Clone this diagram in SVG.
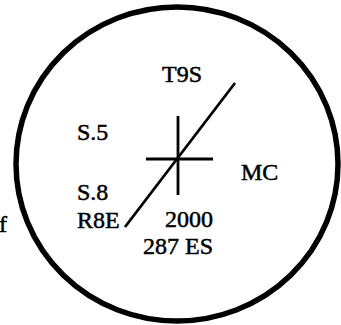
<svg xmlns="http://www.w3.org/2000/svg" width="341" height="325" viewBox="0 0 341 325">
<style>
text{font-family:"Liberation Serif","Times New Roman",serif;font-size:24px;fill:#000;stroke:#000;stroke-width:0.5}
.ln{stroke:#000;stroke-width:2.8;fill:none;stroke-linecap:butt}
</style>
<rect width="341" height="325" fill="#fff"/>
<g id="boundary"><ellipse cx="177" cy="164" rx="161" ry="157" fill="none" stroke="#000" stroke-width="5.5"/></g>
<g id="connectors">
<line class="ln" x1="178" y1="116" x2="178" y2="195"/>
<line class="ln" x1="146" y1="159" x2="213" y2="159"/>
<line class="ln" x1="235" y1="83" x2="125" y2="227"/>
</g>
<g id="labels">
<text x="162" y="82">T9S</text>
<text x="77" y="140">S.5</text>
<text x="77" y="200">S.8</text>
<text x="77" y="228">R8E</text>
<text x="241" y="180">MC</text>
<text x="165" y="227">2000</text>
<text x="143" y="254">287 ES</text>
<text x="-1" y="232">f</text>
</g>
</svg>
